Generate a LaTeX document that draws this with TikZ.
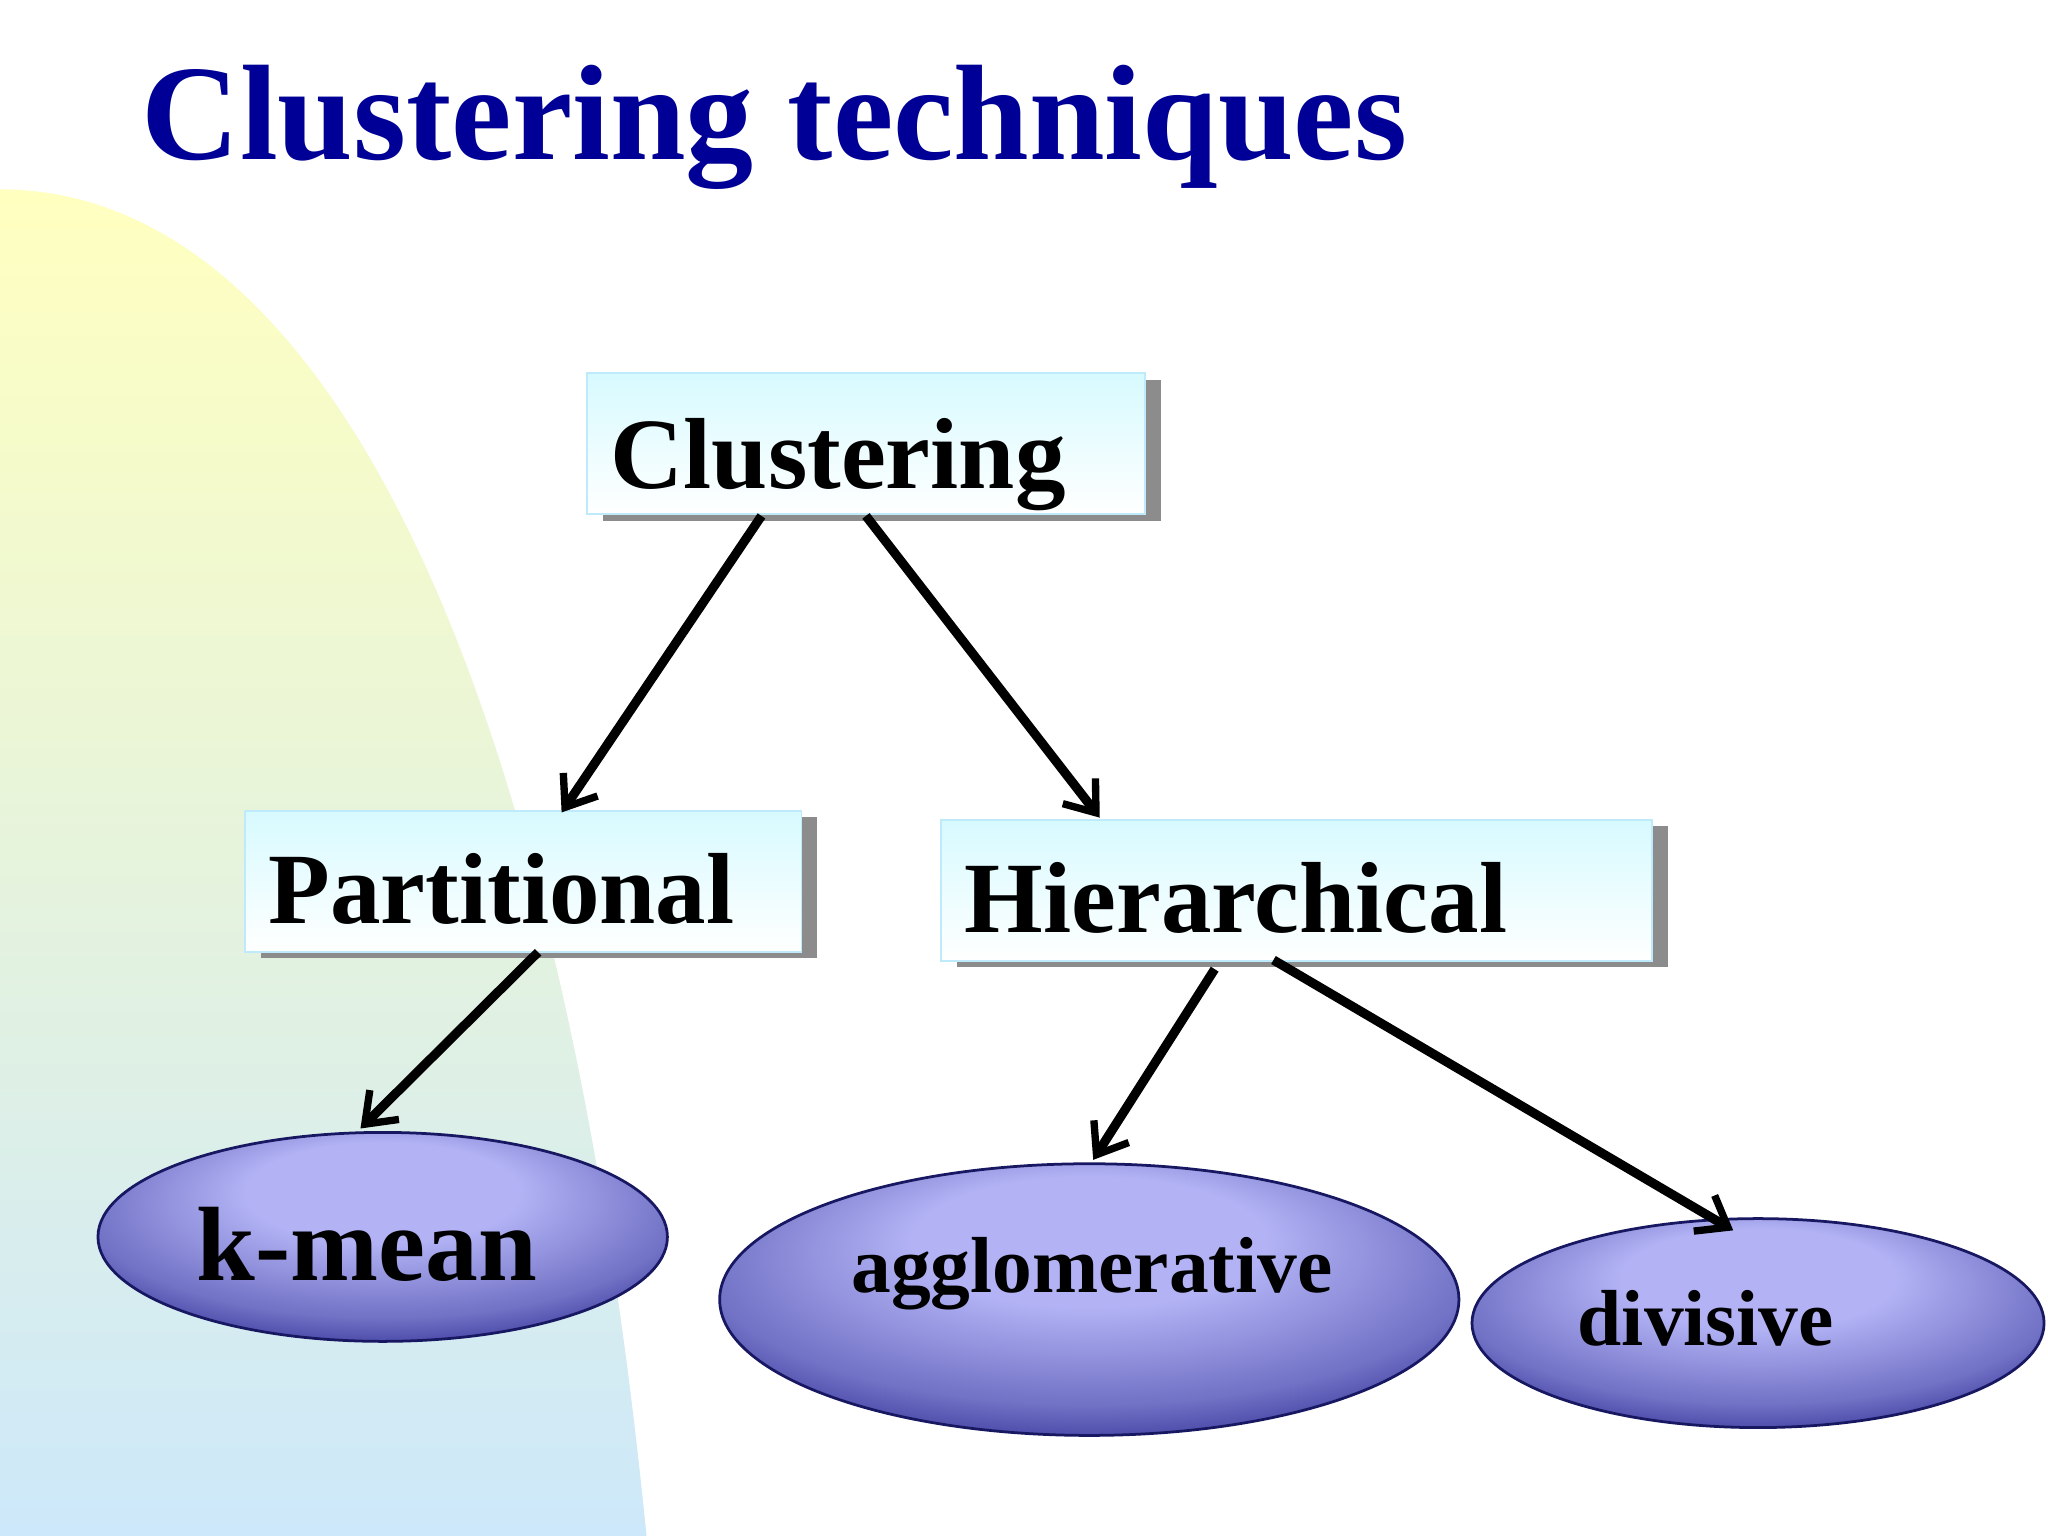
\documentclass[tikz,border=0pt]{standalone}
\usepackage{fontspec}
\setmainfont{Liberation Serif}
\usetikzlibrary{arrows.meta,shapes.geometric,shadows}
\definecolor{titleblue}{RGB}{0,0,150}
\definecolor{boxcyan}{RGB}{215,250,255}
\definecolor{ellout}{RGB}{35,35,140}
\definecolor{ellin}{RGB}{178,178,245}
\pgfdeclareradialshading{ellsh}{\pgfpoint{0bp}{14bp}}{color(0bp)=(ellin); color(12bp)=(ellin); color(26bp)=(ellin!55!ellout); color(36bp)=(ellout); color(50bp)=(ellout)}
\begin{document}
\begin{tikzpicture}[x=0.01cm,y=-0.01cm,
  box/.style={draw=cyan!25,line width=0.4pt,top color=boxcyan,bottom color=white,anchor=north west,
    inner sep=0pt,
    drop shadow={shadow xshift=0.12cm,shadow yshift=-0.05cm,fill=black!45,opacity=1}},
  lab/.style={anchor=base west,inner sep=0pt,font=\bfseries\fontsize{22}{24}\selectfont,text=black},
  ell/.style={ellipse,draw=ellout!70!black,line width=0.6pt,inner sep=0pt,shading=ellsh,text=black},
  arr/.style={line width=2pt,-{Straight Barb[length=6pt,width=9pt,line width=1.6pt]}}]
\useasboundingbox (0,0) rectangle (1568,1176);
\fill[white] (0,0) rectangle (1568,1176);
\shade[top color=yellow!25,bottom color={rgb,255:red,205;green,232;blue,250}] (0,145) .. controls (250,145) and (430,520) .. (495,1176) -- (0,1176) -- cycle;
\node[anchor=base west,text=titleblue,font=\bfseries\fontsize{29.6}{33}\selectfont,inner sep=0pt] (title) at (108,122) {Clustering techniques};
\node[box,minimum width=427*0.01cm,minimum height=108*0.01cm] (c) at (449,285) {};
\node[box,minimum width=426*0.01cm,minimum height=108*0.01cm] (p) at (187,620) {};
\node[box,minimum width=544*0.01cm,minimum height=108*0.01cm] (h) at (720,627) {};
\node[lab] (cl) at (467,374) {Clustering};
\node[lab] (pl) at (205,707) {Partitional};
\node[lab] (hl) at (738,714) {Hierarchical};
\node[ell,minimum width=436*0.01cm,minimum height=160*0.01cm] (k) at (293,947) {};
\node[ell,minimum width=566*0.01cm,minimum height=208*0.01cm] (a) at (834,995) {};
\node[ell,minimum width=438*0.01cm,minimum height=160*0.01cm] (d) at (1346,1013) {};
\node[inner sep=0pt,font=\bfseries\fontsize{23}{25}\selectfont] (kl) at (281,953) {k-mean};
\node[inner sep=0pt,font=\bfseries\fontsize{17.3}{19}\selectfont] (al) at (836,975) {agglomerative};
\node[inner sep=0pt,font=\bfseries\fontsize{17.3}{19}\selectfont] (dl) at (1306,1009) {divisive};
\coordinate (c1) at (583,395); \coordinate (pt) at (430,622);
\coordinate (c2) at (663,395); \coordinate (ht) at (842,626);
\coordinate (p1) at (412,729); \coordinate (kt) at (276,864);
\coordinate (h1) at (930,742); \coordinate (at) at (837,888);
\coordinate (h2) at (975,735); \coordinate (dt) at (1327,942);
\draw[arr] (c1) -- (pt);
\draw[arr] (c2) -- (ht);
\draw[arr] (p1) -- (kt);
\draw[arr] (h1) -- (at);
\draw[arr] (h2) -- (dt);
\end{tikzpicture}
\end{document}
